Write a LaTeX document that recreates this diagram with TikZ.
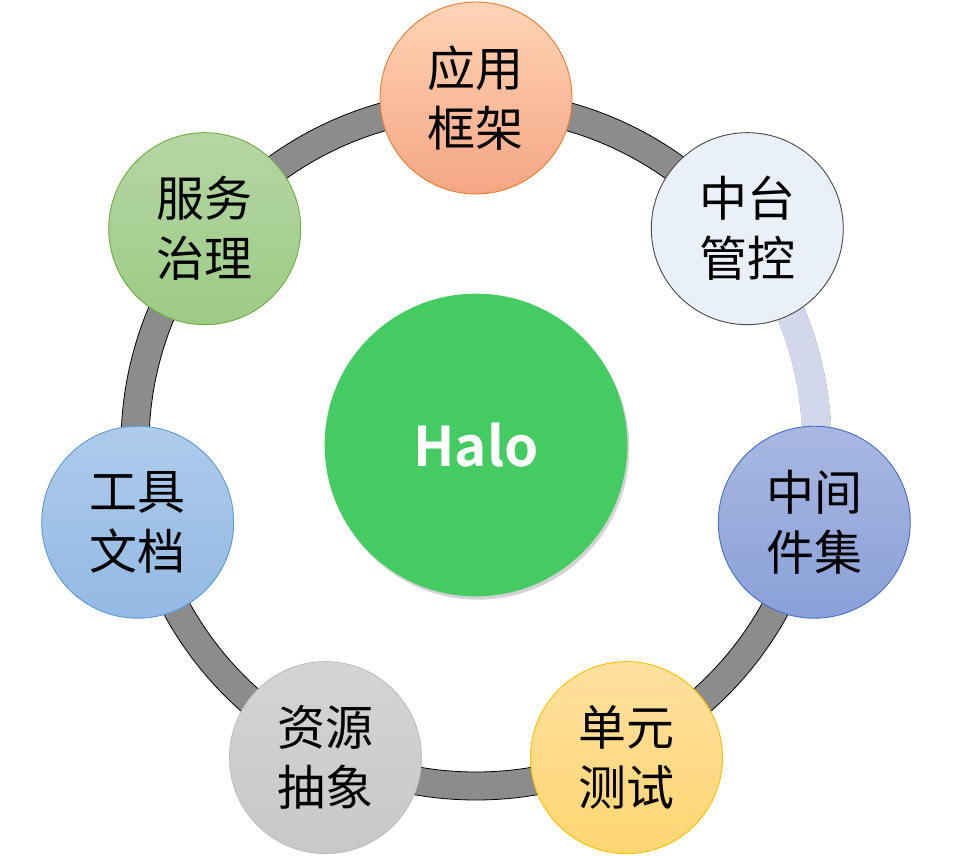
\documentclass[tikz,border=0pt]{standalone}
\usepackage{fontspec}
\usepackage{tikz}
\usetikzlibrary{shadows}
\usepackage{xcolor}
\newfontfamily\cjk{Noto Sans CJK SC}
\newfontfamily\halofont{Noto Sans CJK SC}[BoldFont={* Bold}]
\definecolor{ringgray}{HTML}{8C8C8C}
\definecolor{ringlav}{HTML}{D2D7EC}
\definecolor{halogreen}{HTML}{44CC62}

\begin{document}
\begin{tikzpicture}[x=0.75pt,y=0.75pt,
  part/.style={circle,minimum size=144pt,inner sep=0pt,align=center,line width=0.7pt,
    font=\cjk\fontsize{36}{45}\selectfont}]
\useasboundingbox (-476,-411) rectangle (477,445);
% ring
\filldraw[fill=ringgray,draw=black,line width=0.6pt,even odd rule]
  (0,0) circle[radius=355] circle[radius=327];
\draw[ringlav,line width=22pt] (38.57:341) arc[start angle=38.57,end angle=-12.86,radius=341];
% parts
\node[part,top color=orange!25!white!95!red,bottom color={rgb,255:red,244;green,166;blue,132},draw={rgb,255:red,237;green,125;blue,49}] (kuangjia) at (90:347) {应用\\框架};
\node[part,fill={rgb,255:red,234;green,240;blue,247},draw=black!70] (zhongtai) at (38.57:347) {中台\\管控};
\node[part,top color={rgb,255:red,169;green,184;blue,226},bottom color={rgb,255:red,138;green,160;blue,216},draw={rgb,255:red,68;green,114;blue,196}] (zhongjian) at (-12.86:347) {中间\\件集};
\node[part,top color={rgb,255:red,255;green,224;blue,159},bottom color={rgb,255:red,255;green,214;blue,114},draw={rgb,255:red,255;green,192;blue,0}] (ceshi) at (-64.29:347) {单元\\测试};
\node[part,top color={rgb,255:red,212;green,212;blue,212},bottom color={rgb,255:red,200;green,200;blue,200},draw=black!25] (ziyuan) at (-115.71:347) {资源\\抽象};
\node[part,top color={rgb,255:red,174;green,203;blue,234},bottom color={rgb,255:red,148;green,185;blue,228},draw={rgb,255:red,91;green,155;blue,213}] (wendang) at (-167.14:347) {工具\\文档};
\node[part,top color={rgb,255:red,181;green,214;blue,163},bottom color={rgb,255:red,156;green,203;blue,133},draw={rgb,255:red,112;green,173;blue,71}] (zhili) at (141.43:347) {服务\\治理};
% core
\node[circle,minimum size=227pt,inner sep=0pt,fill=halogreen,text=white,
  drop shadow={shadow xshift=1.5pt,shadow yshift=-2.5pt,opacity=0.35},
  font=\halofont\bfseries\fontsize{41}{48}\selectfont] (halo) at (0,0) {Halo};
\end{tikzpicture}
\end{document}
